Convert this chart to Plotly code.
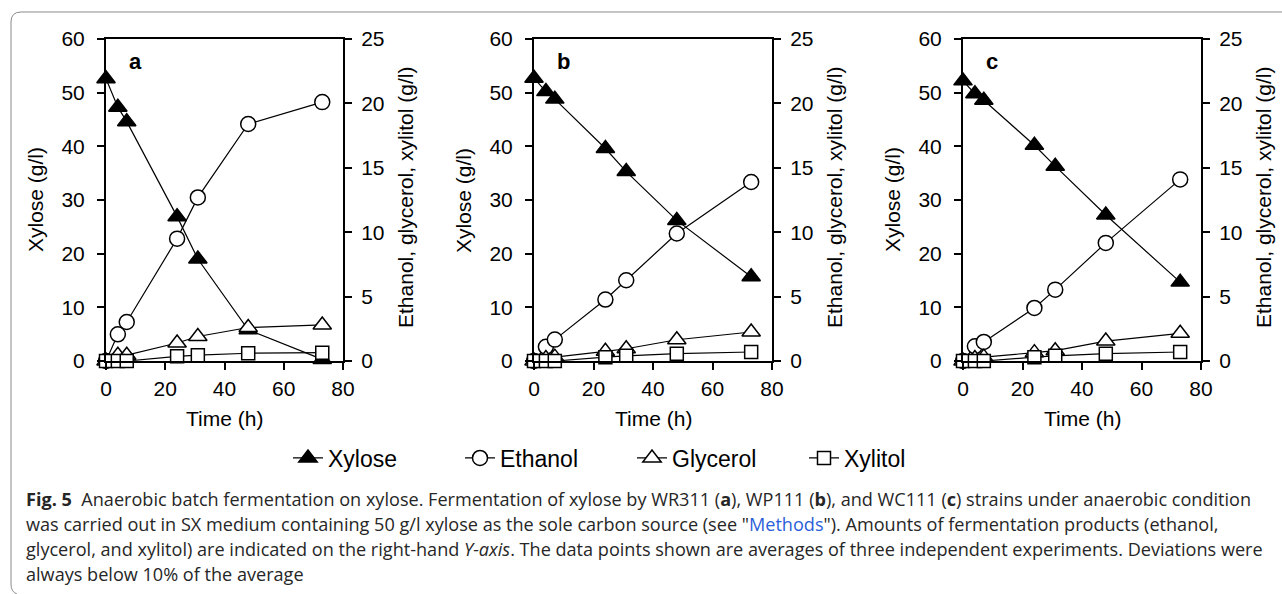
import plotly.graph_objects as go

W, H = 1282, 594

time_h = [0, 4, 7, 24, 31, 48, 73]

# Panel a (WR311)
xylose_a = [52.6, 47.3, 44.6, 26.9, 19.0, 5.8, 0.3]
ethanol_a = [0.0, 2.07, 3.03, 9.5, 12.7, 18.4, 20.1]
glycerol_a = [0.0, 0.45, 0.45, 1.4, 1.9, 2.6, 2.8]
xylitol_a = [0.0, 0.0, 0.0, 0.36, 0.45, 0.6, 0.65]

# Panel b (WP111)
xylose_b = [52.7, 50.2, 48.8, 39.6, 35.3, 26.2, 15.7]
ethanol_b = [0.0, 1.1, 1.66, 4.77, 6.27, 9.9, 13.9]
glycerol_b = [0.0, 0.2, 0.3, 0.75, 0.95, 1.65, 2.25]
xylitol_b = [0.0, 0.0, 0.0, 0.3, 0.4, 0.57, 0.7]

# Panel c (WC111)
xylose_c = [52.2, 49.8, 48.6, 40.2, 36.3, 27.2, 14.7]
ethanol_c = [0.0, 1.14, 1.48, 4.12, 5.54, 9.17, 14.1]
glycerol_c = [0.0, 0.2, 0.3, 0.65, 0.8, 1.55, 2.15]
xylitol_c = [0.0, 0.0, 0.0, 0.3, 0.4, 0.57, 0.7]

panel_labels = ["a", "b", "c"]
series_names = ["Xylose", "Ethanol", "Glycerol", "Xylitol"]

x_ticks = [0, 20, 40, 60, 80]
left_ticks = [0, 10, 20, 30, 40, 50, 60]
right_ticks = [0, 5, 10, 15, 20, 25]

caption_lines = [
    "<b>Fig. 5</b>  Anaerobic batch fermentation on xylose. Fermentation of xylose by WR311 (<b>a</b>), WP111 (<b>b</b>), and WC111 (<b>c</b>) strains under anaerobic condition",
    'was carried out in SX medium containing 50 g/l xylose as the sole carbon source (see "<span style="color:#2b5fd9">Methods</span>"). Amounts of fermentation products (ethanol,',
    "glycerol, and xylitol) are indicated on the right-hand <i>Y-axis</i>. The data points shown are averages of three independent experiments. Deviations were",
    "always below 10% of the average",
]

panels = [
    (xylose_a, ethanol_a, glycerol_a, xylitol_a),
    (xylose_b, ethanol_b, glycerol_b, xylitol_b),
    (xylose_c, ethanol_c, glycerol_c, xylitol_c),
]

# layout geometry in pixels
left_px = [106, 534, 963]
right_px = [343, 772, 1201]
top_px, bot_px = 39, 361

FONT = "Liberation Sans, Arial, sans-serif"

styles = [
    dict(symbol="triangle-up", size=16, color="black", line=dict(color="black", width=1.5)),
    dict(symbol="circle", size=15, color="white", line=dict(color="black", width=1.5)),
    dict(symbol="triangle-up", size=16, color="white", line=dict(color="black", width=1.5)),
    dict(symbol="square", size=13, color="white", line=dict(color="black", width=1.5)),
]

fig = go.Figure()
layout = {}
annotations = []

for i, vals in enumerate(panels):
    xa = "x" if i == 0 else f"x{i+1}"
    yl_idx = 2 * i + 1
    yr_idx = 2 * i + 2
    yl = "y" if yl_idx == 1 else f"y{yl_idx}"
    yr = f"y{yr_idx}"
    for k, (name, v) in enumerate(zip(series_names, vals)):
        fig.add_trace(go.Scatter(
            x=time_h, y=v, name=name, mode="lines+markers",
            xaxis=xa, yaxis=(yl if k == 0 else yr),
            line=dict(color="black", width=1.2),
            marker=styles[k], cliponaxis=False,
            showlegend=(i == 0), legendgroup=name,
        ))
    dom_x = [left_px[i] / W, right_px[i] / W]
    dom_y = [1 - bot_px / H, 1 - top_px / H]
    xkey = "xaxis" if i == 0 else f"xaxis{i+1}"
    ylkey = "yaxis" if yl_idx == 1 else f"yaxis{yl_idx}"
    yrkey = f"yaxis{yr_idx}"
    common = dict(showline=True, linewidth=2, linecolor="black",
                  ticks="outside", ticklen=7, tickwidth=1.5, tickcolor="black",
                  showgrid=False, zeroline=False, automargin=False,
                  tickfont=dict(family=FONT, size=21, color="black"))
    layout[xkey] = dict(domain=dom_x, anchor=yl, range=[0, 80], tickvals=x_ticks,
                        mirror=True, ticklabelstandoff=1, **common)
    layout[ylkey] = dict(domain=dom_y, anchor=xa, range=[0, 60], tickvals=left_ticks,
                         ticklabelstandoff=8, **common)
    layout[yrkey] = dict(domain=dom_y, anchor=xa, overlaying=yl, side="right", range=[0, 25],
                         tickvals=right_ticks, ticklabelstandoff=5, **common)
    cx = (left_px[i] + right_px[i]) / 2
    # axis titles
    annotations.append(dict(text="Time (h)", x=cx / W, y=1 - 418 / H, xref="paper", yref="paper",
                            showarrow=False, xanchor="center", yanchor="middle",
                            font=dict(family=FONT, size=21, color="black")))
    annotations.append(dict(text="Xylose (g/l)", x=(left_px[i] - 71) / W, y=1 - 200 / H,
                            xref="paper", yref="paper", textangle=-90,
                            showarrow=False, xanchor="center", yanchor="middle",
                            font=dict(family=FONT, size=21, color="black")))
    annotations.append(dict(text="Ethanol, glycerol, xylitol (g/l)", x=(right_px[i] + 63) / W,
                            y=1 - 198 / H, xref="paper", yref="paper", textangle=-90,
                            showarrow=False, xanchor="center", yanchor="middle",
                            font=dict(family=FONT, size=21, color="black")))
    annotations.append(dict(text="<b>" + panel_labels[i] + "</b>", x=9.8, y=55.8, xref=xa, yref=yl,
                            showarrow=False, xanchor="center", yanchor="middle",
                            font=dict(family=FONT, size=22, color="black")))

cap_y = [499, 524, 549, 574]
for line, yy in zip(caption_lines, cap_y):
    annotations.append(dict(text=line, x=24 / W, y=1 - yy / H, xref="paper", yref="paper",
                            showarrow=False, xanchor="left", yanchor="middle", align="left",
                            font=dict(family="Open Sans, Noto Sans, sans-serif", size=18.1, color="#262626")))

def P(px, py):
    return f"{px / W:.5f},{1 - py / H:.5f}"

frame_path = (f"M {P(1282, 12)} L {P(21, 12)} Q {P(11, 12)} {P(11, 22)} "
              f"L {P(11, 584)} Q {P(11, 592)} {P(17, 594)}")

fig.update_layout(
    template="none",
    width=W, height=H,
    margin=dict(l=0, r=0, t=0, b=0, pad=0, autoexpand=False),
    paper_bgcolor="white", plot_bgcolor="white",
    showlegend=True,
    legend=dict(orientation="h", x=632 / W, y=1 - 458 / H, xanchor="center", yanchor="middle",
                font=dict(family=FONT, size=23, color="black"), bgcolor="rgba(0,0,0,0)",
                itemsizing="trace", entrywidth=127, entrywidthmode="pixels"),
    annotations=annotations,
    shapes=[dict(type="path", path=frame_path, xref="paper", yref="paper",
                 line=dict(color="#8a8a8a", width=1))],
    **layout,
)

fig.write_html("out.html")
